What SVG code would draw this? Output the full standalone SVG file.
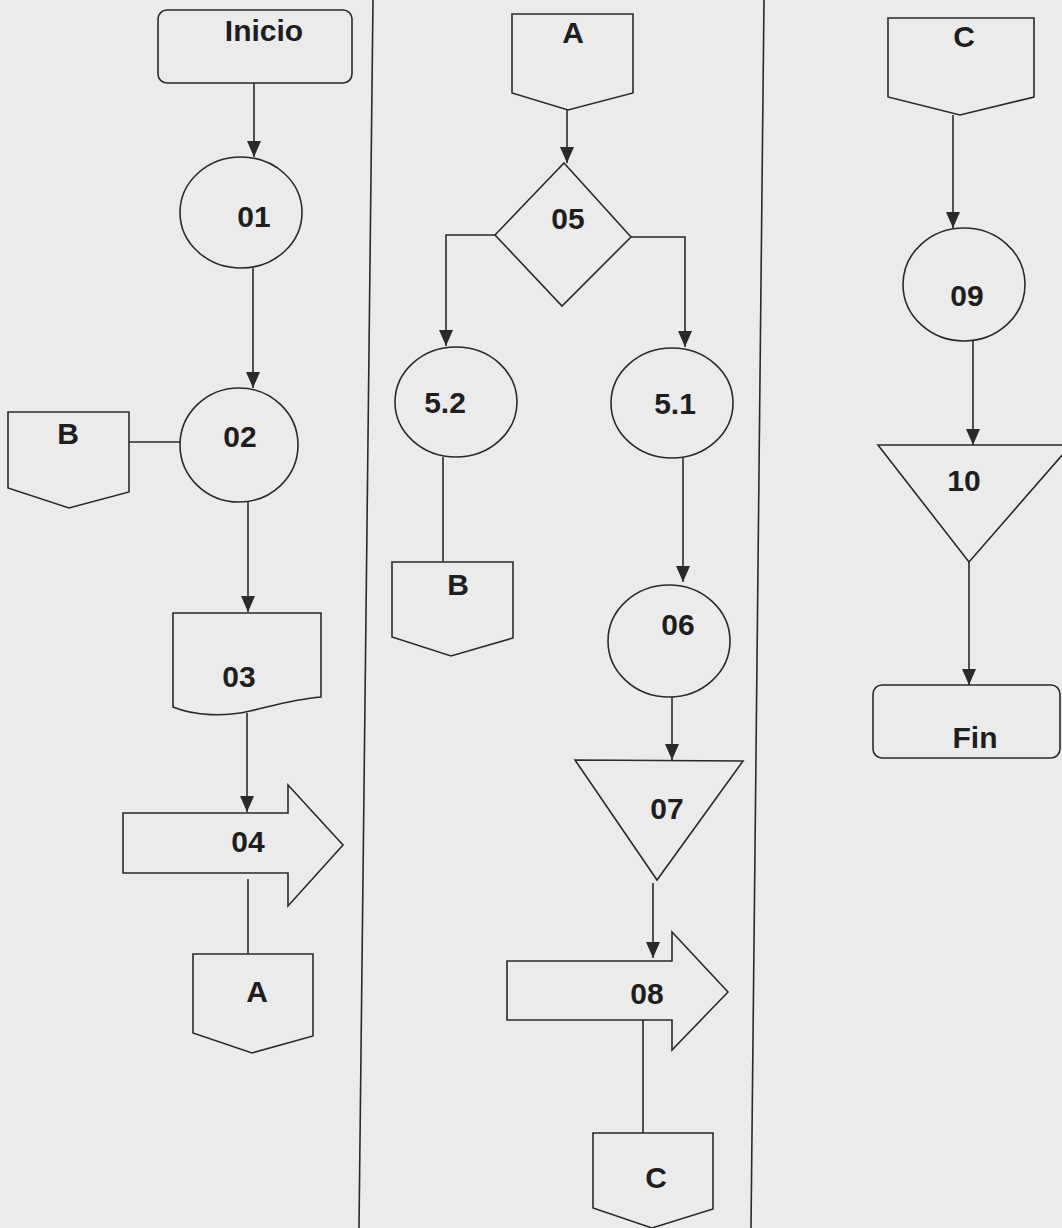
<svg xmlns="http://www.w3.org/2000/svg" width="1062" height="1228" viewBox="0 0 1062 1228">
<style>
.s{fill:none;stroke:#2a2a2a;stroke-width:1.6;stroke-linejoin:miter}
.t{font-family:"Liberation Sans",Arial,sans-serif;font-weight:bold;font-size:30px;fill:#1e1e1e;text-anchor:middle}
.c{fill:none;stroke:#2a2a2a;stroke-width:1.6}
.d{stroke:#2a2a2a;stroke-width:1.6}
</style>
<defs>
<marker id="ah" markerUnits="userSpaceOnUse" viewBox="0 0 16 14" refX="16" refY="7" markerWidth="16" markerHeight="14" orient="auto">
<path d="M0,0 L16,7 L0,14 Z" fill="#2a2a2a"/>
</marker>
</defs>
<rect x="0" y="0" width="1062" height="1228" fill="#ebebeb"/>
<g id="dividers">
<line class="d" x1="373" y1="0" x2="359" y2="1228"/>
<line class="d" x1="764" y1="0" x2="751" y2="1228"/>
</g>
<g id="connectors">
<path class="c" d="M254,83 V157" marker-end="url(#ah)"/>
<path class="c" d="M253,268 V388" marker-end="url(#ah)"/>
<path class="c" d="M129,442 H180"/>
<path class="c" d="M248,502 V612" marker-end="url(#ah)"/>
<path class="c" d="M247,713 V812" marker-end="url(#ah)"/>
<path class="c" d="M248,879 V954"/>
<path class="c" d="M567,110 V163" marker-end="url(#ah)"/>
<path class="c" d="M495,235 H446 V346" marker-end="url(#ah)"/>
<path class="c" d="M631,237 H685 V347" marker-end="url(#ah)"/>
<path class="c" d="M443,457 V562"/>
<path class="c" d="M683,458 V582" marker-end="url(#ah)"/>
<path class="c" d="M672,697 V760" marker-end="url(#ah)"/>
<path class="c" d="M653,883 V958" marker-end="url(#ah)"/>
<path class="c" d="M643,1020 V1133"/>
<path class="c" d="M953,115 V228" marker-end="url(#ah)"/>
<path class="c" d="M973,341 V445" marker-end="url(#ah)"/>
<path class="c" d="M969,562 V685" marker-end="url(#ah)"/>
</g>
<g id="inicio">
<rect class="s" x="158" y="10" width="194" height="73" rx="9"/>
<text class="t" x="264" y="41">Inicio</text>
</g>
<g id="n01">
<ellipse class="s" cx="241" cy="212.5" rx="61" ry="55.5"/>
<text class="t" x="254" y="227">01</text>
</g>
<g id="connB1">
<polygon class="s" points="8,412 129,412 129,492 69,508 8,488"/>
<text class="t" x="68" y="444">B</text>
</g>
<g id="n02">
<ellipse class="s" cx="239" cy="445" rx="59" ry="57"/>
<text class="t" x="240" y="447">02</text>
</g>
<g id="n03">
<path class="s" d="M173,613 H321 V697 C295,699 272,706 250,711 C225,717 195,716 173,707 Z"/>
<text class="t" x="239" y="687">03</text>
</g>
<g id="n04">
<polygon class="s" points="123,813 288,813 288,785 343,845 288,906 288,873 123,873"/>
<text class="t" x="248" y="852">04</text>
</g>
<g id="connA1">
<polygon class="s" points="193,954 313,954 313,1036 252,1053 193,1033"/>
<text class="t" x="257" y="1002">A</text>
</g>
<g id="connA2">
<polygon class="s" points="512,14 633,14 633,93 568,110 512,93"/>
<text class="t" x="573" y="43">A</text>
</g>
<g id="n05">
<polygon class="s" points="564,163 631,237 562,306 495,235"/>
<text class="t" x="568" y="229">05</text>
</g>
<g id="n52">
<ellipse class="s" cx="456" cy="402" rx="61" ry="55"/>
<text class="t" x="445" y="413">5.2</text>
</g>
<g id="n51">
<ellipse class="s" cx="672" cy="403" rx="61" ry="55"/>
<text class="t" x="675" y="414">5.1</text>
</g>
<g id="connB2">
<polygon class="s" points="392,562 513,562 513,638 451,656 392,637"/>
<text class="t" x="458" y="595">B</text>
</g>
<g id="n06">
<ellipse class="s" cx="669" cy="641" rx="61" ry="56"/>
<text class="t" x="678" y="635">06</text>
</g>
<g id="n07">
<polygon class="s" points="575,760 743,761 657,880"/>
<text class="t" x="667" y="819">07</text>
</g>
<g id="n08">
<polygon class="s" points="507,961 672,961 672,932 728,992 672,1050 672,1020 507,1020"/>
<text class="t" x="647" y="1004">08</text>
</g>
<g id="connC1">
<polygon class="s" points="593,1133 713,1133 713,1209 652,1228 593,1208"/>
<text class="t" x="656" y="1188">C</text>
</g>
<g id="connC2">
<polygon class="s" points="888,18 1034,18 1034,97 960,115 888,97"/>
<text class="t" x="964" y="47">C</text>
</g>
<g id="n09">
<ellipse class="s" cx="964" cy="284.5" rx="61" ry="56.5"/>
<text class="t" x="967" y="306">09</text>
</g>
<g id="n10">
<polygon class="s" points="878,445 1071,445 969,562"/>
<text class="t" x="964" y="491">10</text>
</g>
<g id="fin">
<rect class="s" x="873" y="685" width="187" height="73" rx="9"/>
<text class="t" x="975" y="748">Fin</text>
</g>
</svg>
